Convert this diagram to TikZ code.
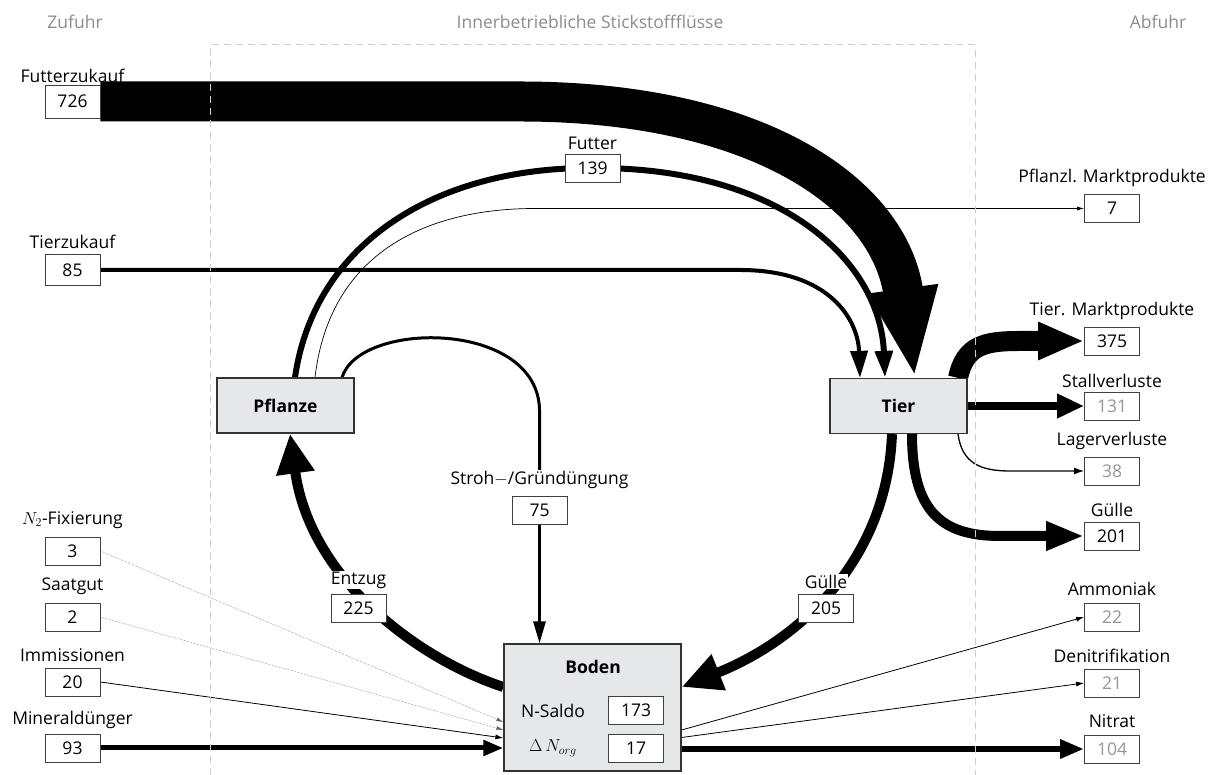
\documentclass[tikz,border=0pt]{standalone}
\usepackage{fontspec}
\setmainfont{Open Sans}
\usepackage{tikz}
\usetikzlibrary{arrows.meta,positioning,calc,backgrounds}

\definecolor{procgray}{RGB}{230,231,232}
\definecolor{numgray}{RGB}{150,150,150}
\definecolor{hdrgray}{RGB}{140,140,140}
\definecolor{framegray}{RGB}{205,205,205}

\begin{document}
\begin{tikzpicture}[x=1pt,y=1pt,
    font=\fontsize{17.5}{20}\selectfont,
    numbox/.style={draw=black!75, fill=white, line width=0.8pt, minimum width=55pt, minimum height=28pt, inner sep=0pt},
    lossbox/.style={numbox, text=numgray},
    procbox/.style={draw=black!80, fill=procgray, line width=1.2pt, minimum width=137pt, minimum height=55pt, font=\fontsize{17.5}{20}\selectfont\bfseries},
    lbl/.style={inner sep=1pt},
    cutlbl/.style={fill=white, inner sep=1pt},
    hdr/.style={text=hdrgray},
    thinflow/.style={line width=0.8pt, -{Latex[length=8pt,width=5pt]}},
    dotflow/.style={black!60, line width=0.5pt, densely dotted, -{Latex[length=7pt,width=4pt]}}
]
    \useasboundingbox (0,0) rectangle (1217,775);
    % headers
    \node[hdr] (hzu) at (75,753) {Zufuhr};
    \node[hdr] (hin) at (590,753) {Innerbetriebliche Stickstoffflüsse};
    \node[hdr] (hab) at (1158,753) {Abfuhr};

    % compartments
    \node[procbox] (pflanze) at (285.5,369.5) {Pflanze};
    \node[procbox] (tier) at (898.5,369) {Tier};
    \node[procbox, minimum width=177pt, minimum height=127pt] (boden) at (592.5,67.5) {};
    \node[font=\fontsize{17.5}{20}\selectfont\bfseries] (bodenlbl) at (593,108) {Boden};
    \node (nsaldo) at (553,64) {N-Saldo};
    \node[numbox] (b173) at (636,64.5) {173};
    \node (dnorg) at (553,27) {$\Delta\,N_{org}$};
    \node[numbox] (b17) at (636,26.5) {17};

    % Zufuhr
    \node[numbox, minimum height=33pt] (b726) at (72.5,673.5) {726};
    \node[lbl, above=1pt of b726] (lfutterzu) {Futterzukauf};
    \node[numbox, minimum height=31pt] (b85) at (72.5,505) {85};
    \node[lbl, above=4pt of b85] (ltierzu) {Tierzukauf};
    \node[numbox] (b3) at (72.5,224) {3};
    \node[lbl, above=7pt of b3] (lfix) {$N_2$-Fixierung};
    \node[numbox] (b2) at (72.5,158) {2};
    \node[lbl, above=7pt of b2] (lsaat) {Saatgut};
    \node[numbox] (b20) at (72.5,93) {20};
    \node[lbl, above=5pt of b20] (limm) {Immissionen};
    \node[numbox] (b93) at (72.5,27) {93};
    \node[lbl, above=4pt of b93] (lmin) {Mineraldünger};

    % innerbetrieblich
    \node[numbox] (b139) at (592.5,607) {139};
    \node[cutlbl, above=3pt of b139] (lfutter) {Futter};
    \node[numbox] (b75) at (539.5,264.5) {75};
    \node[cutlbl, above=6pt of b75] (lstroh) {Stroh$-$/Gründüngung};
    \node[numbox] (b225) at (358.5,167) {225};
    \node[cutlbl, above=4pt of b225] (lentzug) {Entzug};
    \node[numbox] (b205) at (826,167) {205};
    \node[cutlbl, above=4pt of b205] (lguelle) {Gülle};

    % Abfuhr
    \node[numbox] (b7) at (1112,566.5) {7};
    \node[lbl, above=6pt of b7] (lpmarkt) {Pflanzl. Marktprodukte};
    \node[numbox] (b375) at (1112,434) {375};
    \node[lbl, above=6pt of b375] (ltmarkt) {Tier. Marktprodukte};
    \node[lossbox] (b131) at (1112,369) {131};
    \node[lbl, above=3pt of b131] (lstall) {Stallverluste};
    \node[lossbox] (b38) at (1112,304) {38};
    \node[lbl, above=6pt of b38] (llager) {Lagerverluste};
    \node[numbox] (b201) at (1112,239) {201};
    \node[lbl, above=4pt of b201] (lguelleab) {Gülle};
    \node[lossbox] (b22) at (1112,158) {22};
    \node[lbl, above=6pt of b22] (lammon) {Ammoniak};
    \node[lossbox] (b21) at (1112,92) {21};
    \node[lbl, above=5pt of b21] (ldenit) {Denitrifikation};
    \node[lossbox] (b104) at (1112,26) {104};
    \node[lbl, above=6pt of b104] (lnitrat) {Nitrat};

    \begin{scope}[on background layer]
    % Futterzukauf
    \draw[line width=40pt, -{Triangle[length=90pt,width=64pt]}] (b726.east) -- (520,673.5)
        .. controls (760,673.5) and (890,580) .. ([xshift=16.5]tier.north);
    % Futter und pflanzl. Marktprodukte
    \draw[line width=6pt, -{Triangle[length=27pt,width=17pt]}] ([xshift=9.5]pflanze.north)
        .. controls (315,535) and (440,608) .. (b139.center)
        .. controls (780,608) and (880,515) .. ([xshift=-13.5]tier.north);
    \draw[line width=0.7pt, -{Latex[length=7pt,width=4pt]}] ([xshift=29.5]pflanze.north)
        .. controls (330,525) and (430,566.5) .. (535,566.5) -- (b7.west);
    % Tierzukauf
    \draw[line width=4pt, -{Triangle[length=27pt,width=17pt]}] (b85.east) -- (740,505)
        .. controls (830,505) and (858,455) .. ([xshift=-38.5]tier.north);
    % Stroh-/Gruenduengung
    \draw[line width=3pt] ([xshift=56.5]pflanze.north)
        .. controls (360,455) and (538,455) .. (b75 |- 0,365) -- (b75 |- lstroh.north);
    \draw[line width=3pt, -{Triangle[length=22pt,width=12pt]}] (b75.south) -- (b75.south |- boden.north);
    % Entzug
    \draw[line width=10pt, -{Triangle[length=40pt,width=36pt]}] ([yshift=20.5]boden.west)
        .. controls (420,115) and (310,195) .. ([xshift=4.5]pflanze.south);
    % Guelle zum Boden
    \draw[line width=10pt, -{Triangle[length=40pt,width=36pt]}] ([xshift=-6.5]tier.south)
        .. controls (887,215) and (800,135) .. ([yshift=20.5]boden.east);
    % Abfuhr Tier
    \draw[line width=20pt, -{Triangle[length=46pt,width=35pt]}] ([xshift=59.5]tier.north)
        .. controls (965,430) and (985,434) .. (1020,434) -- (b375.west);
    \draw[line width=8pt, -{Triangle[length=27pt,width=23pt]}] (tier.east) -- (b131.west);
    \draw[line width=1.3pt, -{Latex[length=10pt,width=7pt]}] ([xshift=59.5]tier.south)
        .. controls (962,312) and (980,304) .. (1010,304) -- (b38.west);
    \draw[line width=10pt, -{Triangle[length=38pt,width=27pt]}] ([xshift=13.5]tier.south)
        .. controls (912,265) and (940,239) .. (1000,239) -- (b201.west);
    % Zufuhr Boden
    \draw[dotflow] (b3.east) -- ([yshift=-14.5]boden.west);
    \draw[dotflow] (b2.east) -- ([yshift=-22.5]boden.west);
    \draw[thinflow] (b20.east) -- ([yshift=-30.5]boden.west);
    \draw[line width=5pt, -{Triangle[length=20pt,width=15pt]}] (b93.east) -- (b93.east -| boden.west);
    % Abfuhr Boden
    \draw[thinflow] ([yshift=-22.5]boden.east) -- (b22.west);
    \draw[thinflow] ([yshift=-30]boden.east) -- (b21.west);
    \draw[line width=6pt, -{Triangle[length=24pt,width=18pt]}] (b104.west -| boden.east) -- (b104.west);
    \end{scope}

    % Betriebsgrenze
    \draw[framegray, line width=1pt, dash pattern=on 7pt off 5pt] (210,0) -- (210,730) -- (975,730) -- (975,0);
\end{tikzpicture}
\end{document}
